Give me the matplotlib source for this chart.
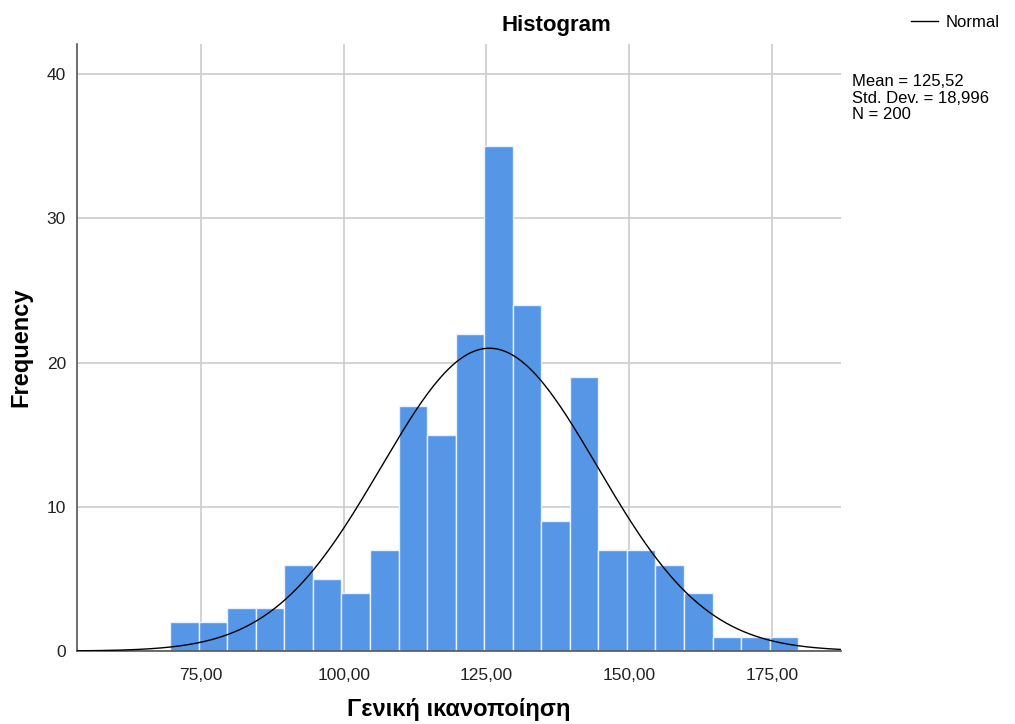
import matplotlib
matplotlib.use("Agg")
import matplotlib.pyplot as plt
import numpy as np

# histogram data (bin width 5, starting at 70)
bin_start = 69.6
bin_width = 5
counts = [2, 2, 3, 3, 6, 5, 4, 7, 17, 15, 22, 35, 24, 9, 19, 7, 7, 6, 4, 1, 1, 1]
mean = 125.52
std = 18.996
n = 200

x_ticks = [75, 100, 125, 150, 175]
x_labels = ["75,00", "100,00", "125,00", "150,00", "175,00"]
y_ticks = [0, 10, 20, 30, 40]

plt.rcParams['font.family'] = ['Liberation Sans', 'DejaVu Sans']

fig = plt.figure(figsize=(10.15, 7.24), dpi=100)
ax = fig.add_axes([0.0759, 0.1008, 0.7527, 0.8384])

edges = bin_start + bin_width * np.arange(len(counts))
ax.bar(edges, counts, width=bin_width, align='edge', color='#5596e6',
       edgecolor='#e8f0fb', linewidth=1.0, zorder=2)

# normal curve scaled to counts
xs = np.linspace(53.3, 187.1, 400)
ys = n * bin_width * np.exp(-0.5 * ((xs - mean) / std) ** 2) / (std * np.sqrt(2 * np.pi))
ax.plot(xs, ys, color='black', linewidth=1.0, zorder=3, label='Normal')

ax.set_xlim(53.3, 187.1)
ax.set_ylim(0, 42.1)
ax.set_xticks(x_ticks)
ax.set_xticklabels(x_labels)
ax.set_yticks(y_ticks)
ax.tick_params(length=0, labelsize=12.5, colors='#222222')
ax.tick_params(axis='x', pad=12)
ax.tick_params(axis='y', pad=8)
ax.grid(True, color='#cccccc', linewidth=1.2, zorder=0)
ax.set_axisbelow(True)

for side in ['top', 'right']:
    ax.spines[side].set_visible(False)
for side in ['left', 'bottom']:
    ax.spines[side].set_color('#555555')
    ax.spines[side].set_linewidth(1.2)

ax.text(0.628, 1.013, "Histogram", transform=ax.transAxes, fontsize=16,
        fontweight='bold', ha='center', va='bottom')
ax.set_xlabel("Γενική ικανοποίηση", fontsize=17, fontweight='bold')
ax.set_ylabel("Frequency", fontsize=17, fontweight='bold')
ax.xaxis.set_label_coords(0.5, -0.078)
ax.yaxis.set_label_coords(-0.059, 0.5)

fig.legend(loc='upper right', bbox_to_anchor=(1.0, 1.0), frameon=False, fontsize=12,
           handlelength=1.6, handletextpad=0.5)
fig.text(0.839, 0.898, "Mean = 125,52\nStd. Dev. = 18,996\nN = 200",
         fontsize=12, va='top', ha='left', linespacing=1.15)

fig.savefig("out.png", dpi=100)
